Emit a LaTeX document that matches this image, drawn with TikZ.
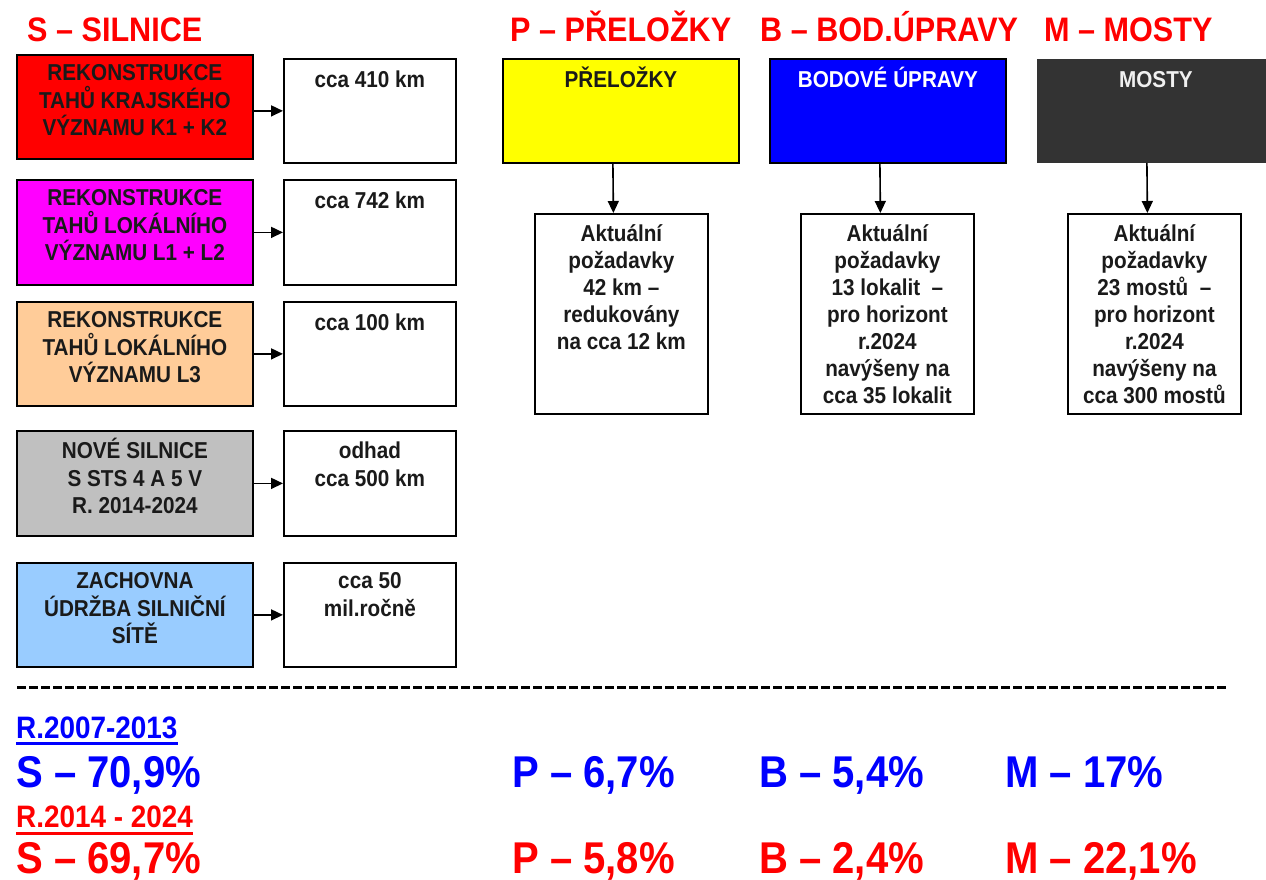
\documentclass[tikz,border=0pt]{standalone}
\usepackage{fontspec}
\setmainfont{Liberation Sans}[FakeStretch=0.9]
\usetikzlibrary{arrows.meta}
\definecolor{cRed}{HTML}{FF0000}
\definecolor{cMag}{HTML}{FF00FF}
\definecolor{cPeach}{HTML}{FFCC99}
\definecolor{cGray}{HTML}{C0C0C0}
\definecolor{cSky}{HTML}{99CCFF}
\definecolor{cYel}{HTML}{FFFF00}
\definecolor{cBlue}{HTML}{0000FF}
\definecolor{cDark}{HTML}{333333}
\definecolor{cTxt}{HTML}{1A1A1A}
\newcommand{\bxt}[4]{\parbox[c][#2][t]{#1}{\centering\rule{0pt}{#3}#4\par}}
\tikzset{
  box/.style={draw=black, line width=1.8pt, inner sep=0pt, anchor=north west,
    text=cTxt, font=\bfseries\fontsize{23}{27.5}\selectfont},
  wbox/.style={box, fill=white},
  arr/.style={line width=1.6pt, -{Triangle[length=12pt,width=11pt]}},
  ttl/.style={inner sep=0pt, anchor=base west, text=cRed, font=\bfseries\fontsize{34}{40}\selectfont},
  pct/.style={inner sep=0pt, anchor=base west, font=\bfseries\fontsize{44.5}{50}\selectfont},
  per/.style={inner sep=0pt, anchor=base west, font=\bfseries\fontsize{31}{36}\selectfont},
  uline/.style={line width=3pt},
  sep/.style={line width=3pt, dash pattern=on 9pt off 3pt},
}
\begin{document}
\begin{tikzpicture}[x=1pt,y=-1pt]
\useasboundingbox (0,0) rectangle (1266,880);
\clip (0,0) rectangle (1266,880);
\fill[white] (0,0) rectangle (1266,880);

% titles
\node[ttl] (tS) at (27,42) {S – SILNICE};
\node[ttl] (tP) at (510,42) {P – PŘELOŽKY};
\node[ttl] (tB) at (760,42) {B – BOD.ÚPRAVY};
\node[ttl] (tM) at (1044,42) {M – MOSTY};

% left colored boxes
\node[box, fill=cRed] (s1) at (16,54) {\bxt{236pt}{104pt}{26pt}{REKONSTRUKCE\\TAHŮ KRAJSKÉHO\\VÝZNAMU K1 + K2}};
\node[box, fill=cMag] (s2) at (16,179) {\bxt{236pt}{105pt}{26pt}{REKONSTRUKCE\\TAHŮ LOKÁLNÍHO\\VÝZNAMU L1 + L2}};
\node[box, fill=cPeach] (s3) at (16,301) {\bxt{236pt}{104pt}{26pt}{REKONSTRUKCE\\TAHŮ LOKÁLNÍHO\\VÝZNAMU L3}};
\node[box, fill=cGray] (s4) at (16,430) {\bxt{236pt}{105pt}{28pt}{NOVÉ SILNICE\\S STS 4 A 5 V\\R. 2014-2024}};
\node[box, fill=cSky] (s5) at (16,562) {\bxt{236pt}{104pt}{26pt}{ZACHOVNA\\ÚDRŽBA SILNIČNÍ\\SÍTĚ}};

% left white boxes
\node[wbox] (w1) at (283,58) {\bxt{172pt}{104pt}{29pt}{cca 410 km}};
\node[wbox] (w2) at (283,179) {\bxt{172pt}{105pt}{29pt}{cca 742 km}};
\node[wbox] (w3) at (283,301) {\bxt{172pt}{104pt}{29pt}{cca 100 km}};
\node[wbox] (w4) at (283,430) {\bxt{172pt}{105pt}{28pt}{odhad\\cca 500 km}};
\node[wbox] (w5) at (283,562) {\bxt{172pt}{104pt}{26pt}{cca 50\\mil.ročně}};

\foreach \i in {1,...,5}{
  \draw[arr] (w\i.west -| s\i.east) -- (w\i.west);
}

% right top boxes
\node[box, fill=cYel] (p) at (502,58) {\bxt{236pt}{104pt}{29pt}{PŘELOŽKY}};
\node[box, fill=cBlue, text=white] (b) at (769,58) {\bxt{236pt}{104pt}{29pt}{BODOVÉ ÚPRAVY}};
\node[box, fill=cDark, draw=cDark, text=gray!12] (m) at (1037,59) {\bxt{236pt}{102pt}{28pt}{MOSTY}};

% right white boxes
\node[wbox] (p2) at (534,213) {\bxt{173pt}{200pt}{28pt}{Aktuální\\[-0.5pt]požadavky\\[-0.5pt]42 km –\\[-0.5pt]redukovány\\[-0.5pt]na cca 12 km}};
\node[wbox] (b2) at (800,213) {\bxt{173pt}{200pt}{28pt}{Aktuální\\[-0.5pt]požadavky\\[-0.5pt]13 lokalit~~–\\[-0.5pt]pro horizont\\[-0.5pt]r.2024\\[-0.5pt]navýšeny na\\[-0.5pt]cca 35 lokalit}};
\node[wbox] (m2) at (1067,213) {\bxt{173pt}{200pt}{28pt}{Aktuální\\[-0.5pt]požadavky\\[-0.5pt]23 mostů~~–\\[-0.5pt]pro horizont\\[-0.5pt]r.2024\\[-0.5pt]navýšeny na\\[-0.5pt]cca 300 mostů}};

\draw[arr] ([xshift=-8pt]p.south) -- ([xshift=-8pt]p2.north);
\draw[arr] ([xshift=-8pt]b.south) -- ([xshift=-7pt]b2.north);
\draw[arr] ([xshift=-9pt]m.south) -- ([xshift=-7pt]m2.north);

% separator
\coordinate (d1) at (17,687);
\coordinate (d2) at (1226,687);
\draw[sep] (d1) -- (d2);

% bottom statistics
\node[per, text=cBlue] (r1) at (16,738) {R.2007-2013};
\draw[uline, cBlue] ([yshift=-5pt]r1.base west) -- ([yshift=-5pt]r1.base east);
\node[pct, text=cBlue] (bs) at (16,787) {S – 70,9\%};
\node[pct, text=cBlue] (bp) at (512,787) {P – 6,7\%};
\node[pct, text=cBlue] (bb) at (759,787) {B – 5,4\%};
\node[pct, text=cBlue] (bm) at (1005,787) {M – 17\%};

\node[per, text=cRed] (r2) at (16,827) {R.2014 - 2024};
\draw[uline, cRed] ([yshift=-6pt]r2.base west) -- ([yshift=-6pt]r2.base east);
\node[pct, text=cRed] (rs) at (16,873) {S – 69,7\%};
\node[pct, text=cRed] (rp) at (512,873) {P – 5,8\%};
\node[pct, text=cRed] (rb) at (759,873) {B – 2,4\%};
\node[pct, text=cRed] (rm) at (1005,873) {M – 22,1\%};
\end{tikzpicture}
\end{document}
